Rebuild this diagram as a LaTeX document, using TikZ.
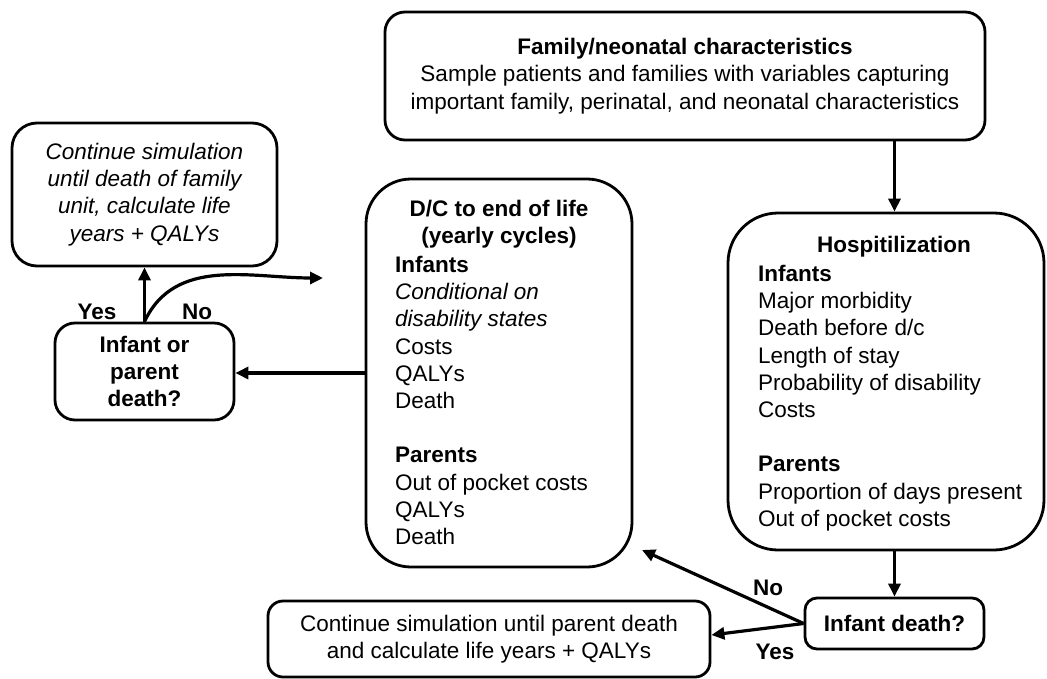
\documentclass[tikz,border=0pt]{standalone}
\usepackage{fontspec}
\setmainfont{Liberation Sans}
\usetikzlibrary{arrows.meta}
\newcommand{\flowfont}{\fontsize{22.5}{27.2}\selectfont}
\begin{document}
\begin{tikzpicture}[x=1pt,y=-1pt,
  every node/.style={font=\flowfont, inner sep=0pt},
  box/.style={draw, line width=2.8pt, rounded corners=#1, align=center},
  box/.default=20pt,
  title/.style={font=\flowfont\bfseries, align=center},
  list/.style={font=\flowfont, align=left, anchor=north west},
  lbl/.style={font=\flowfont\bfseries},
  arr/.style={line width=3.2pt, -{Triangle[length=13pt,width=12pt]}},
]
\useasboundingbox (0,0) rectangle (1047,678);

% boxes
\node[box=20pt, minimum width=600pt, minimum height=128pt] (fam) at (685,76)
  {\textbf{Family/neonatal characteristics}\\
   Sample patients and families with variables capturing\\
   important family, perinatal, and neonatal characteristics};

\node[box=50pt, minimum width=316pt, minimum height=337pt] (hosp) at (886,381.5) {};
\node[title] (hospT) at (894,247) {Hospitilization};
\node[list] (hospL) at (758,265)
  {\textbf{Infants}\\
   Major morbidity\\
   Death before d/c\\
   Length of stay\\
   Probability of disability\\
   Costs\\[27.2pt]
   \textbf{Parents}\\
   Proportion of days present\\
   Out of pocket costs};

\node[box=45pt, minimum width=266pt, minimum height=388pt] (dc) at (499,373) {};
\node[title] (dcT) at (499,224) {D/C to end of life\\(yearly cycles)};
\node[list] (dcL) at (395,256)
  {\textbf{Infants}\\
   \textit{Conditional on}\\
   \textit{disability states}\\
   Costs\\
   QALYs\\
   Death\\[27.2pt]
   \textbf{Parents}\\
   Out of pocket costs\\
   QALYs\\
   Death};

\node[box=25pt, minimum width=265pt, minimum height=143pt, font=\flowfont\itshape] (cs) at (144.5,194.5)
  {Continue simulation\\until death of family\\unit, calculate life\\years + QALYs};

\node[box=20pt, minimum width=179pt, minimum height=97pt, font=\flowfont\bfseries] (iop) at (144.5,371.5)
  {Infant or\\parent\\death?};

\node[box=12pt, minimum width=179pt, minimum height=51pt, font=\flowfont\bfseries] (idth) at (894.5,623.5)
  {Infant death?};

\node[box=15pt, minimum width=442pt, minimum height=76pt] (bl) at (489,639)
  {Continue simulation until parent death\\and calculate life years + QALYs};

% free ends of the two "No" branches
\coordinate (noLeft) at (323,278);
\coordinate (noRight) at (642,550);

% connectors
\draw[arr] (idth.north |- fam.south) -- (idth.north |- hosp.north);
\draw[arr] (idth.north |- hosp.south) -- (idth.north);
\draw[arr] (idth.west) -- (noRight);
\draw[arr] (idth.west) -- ([yshift=4pt]bl.east);
\draw[arr] (dc.west) -- (dc.west -| iop.east);
\draw[arr] (iop.north) -- (cs.south);
\draw[arr] (iop.north) to[out=65,in=180] (noLeft);

% branch labels
\node[lbl] (yesL) at (97,312) {Yes};
\node[lbl] (noL) at (197,312) {No};
\node[lbl] (noR) at (768,588) {No};
\node[lbl] (yesR) at (775,652) {Yes};
\end{tikzpicture}
\end{document}
